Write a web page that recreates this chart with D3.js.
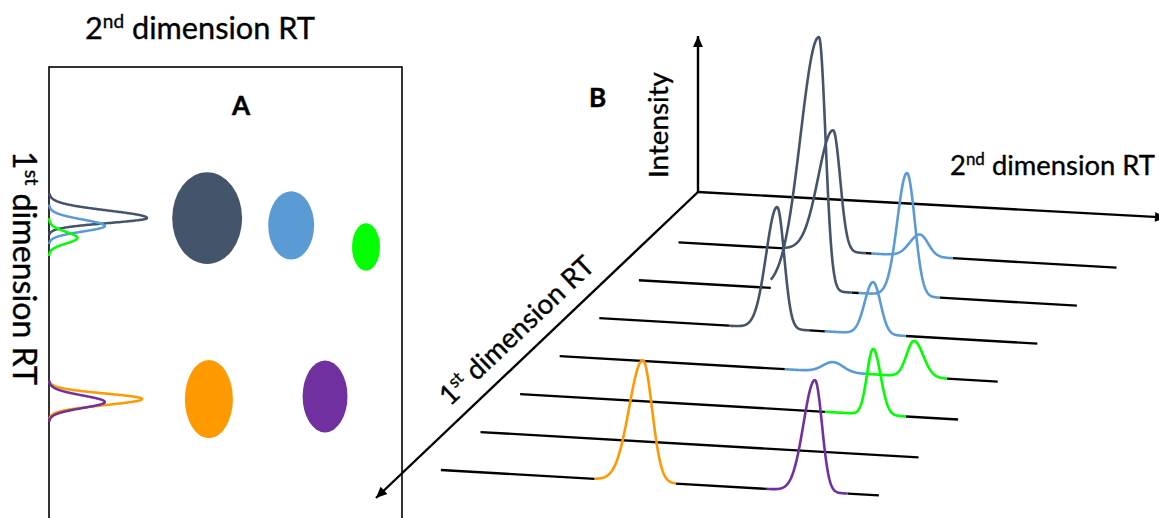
<!DOCTYPE html>
<html>
<head>
<meta charset="utf-8">
<script src="https://cdn.jsdelivr.net/npm/d3@7"></script>
<style>
  html, body { margin: 0; padding: 0; background: #ffffff; }
  svg { display: block; }
  text { white-space: pre; }
</style>
</head>
<body>
<svg id="chart" width="1159" height="518"></svg>
<script>
// ---------------- data ----------------
// five compounds separated in two dimensions
const compounds = ["c1", "c2", "c3", "c4", "c5"];

// panel A: 2D retention map (1st dim in min, 2nd dim in s)
const spotRt1 = [16.8, 17.6, 20.0, 36.9, 36.6];
const spotRt2 = [4.48, 6.86, 8.98, 4.53, 7.82];
const spotWidth1 = [10.2, 7.6, 5.3, 8.7, 8.0];   // peak width along 1st dim (min)
const spotWidth2 = [1.98, 1.30, 0.79, 1.36, 1.27]; // peak width along 2nd dim (s)

// panel A: 1st-dimension chromatogram of each compound
const traceRt1 = [16.78, 17.67, 19.0, 36.89, 37.22];
const traceHeight = [100, 57, 29, 95, 57];
const traceSigmaEarly = [0.83, 0.72, 0.67, 0.61, 0.72];
const traceSigmaLate = [0.56, 0.61, 0.61, 0.67, 0.67];

// panel B: modulated 2nd-dimension chromatograms (one per modulation)
const modulations = [0, 1, 2, 3, 4, 5, 6];
const peakSlice    = [0, 1, 2, 0, 1, 2, 3, 3, 4, 6, 6];
const peakCompound = [0, 0, 0, 1, 1, 1, 1, 2, 2, 3, 4];
const peakRt2      = [3.53, 4.11, 4.06, 5.51, 6.12, 6.25, 6.24, 8.09, 8.06, 4.61, 8.54];
const peakHeight   = [47.7, 100, 47.9, 8.6, 48.4, 20.5, 3.9, 14.1, 25.9, 47.9, 44.0];
const peakSigmaL   = [0.34, 0.42, 0.25, 0.23, 0.22, 0.19, 0.23, 0.17, 0.14, 0.31, 0.26];
const peakSigmaR   = [0.16, 0.15, 0.16, 0.19, 0.18, 0.17, 0.23, 0.21, 0.17, 0.21, 0.16];

// ---------------- styles ----------------
const colors = ["#44546A", "#5B9BD5", "#00FF00", "#FF9900", "#7030A0"];
const FONT = "Lato, 'Open Sans', 'Noto Sans', sans-serif";

const svg = d3.select("#chart");

// skewed Gaussian peak profile
function peakShape(x, c, sL, sR) {
  const s = x < c ? sL : sR;
  const d = (x - c) / s;
  return Math.exp(-0.5 * d * d);
}

// text label, font size chosen so the label spans the given width
function label(parent, parts, o) {
  const g = parent.append("g")
    .attr("transform", `translate(${o.x},${o.y}) rotate(${o.rotate || 0})`);
  const text = g.append("text")
    .attr("text-anchor", o.anchor || "start")
    .attr("font-family", FONT)
    .attr("font-weight", o.weight || "normal")
    .attr("fill", "#000")
    .attr("stroke", "#000")
    .attr("stroke-width", o.weight === "bold" ? 0.5 : 0.35);
  const build = fs => {
    text.selectAll("tspan").remove();
    text.attr("font-size", fs);
    parts.forEach(p => {
      const ts = text.append("tspan").text(p.t);
      if (p.sup) ts.attr("font-size", fs * 0.62).style("baseline-shift", (fs * 0.36) + "px");
    });
  };
  build(30);
  if (o.width) {
    const len = text.node().getComputedTextLength();
    build(30 * o.width / len);
  } else if (o.size) {
    build(o.size);
  }
  return text;
}

// ---------------- panel A ----------------
const A = svg.append("g");
const boxLeft = 49, boxTop = 67, boxRight = 402, boxBottom = 540;

const xA = d3.scaleLinear().domain([0, 10]).range([boxLeft, boxRight]);
const yA = d3.scaleLinear().domain([0, 50]).range([boxTop, 517]);
const intA = d3.scaleLinear().domain([0, 100]).range([0, 98]);

A.append("rect")
  .attr("x", boxLeft).attr("y", boxTop)
  .attr("width", boxRight - boxLeft).attr("height", boxBottom - boxTop)
  .attr("fill", "none").attr("stroke", "#000").attr("stroke-width", 1.6);

A.selectAll("ellipse.spot")
  .data(compounds)
  .join("ellipse")
  .attr("class", "spot")
  .attr("cx", (d, i) => xA(spotRt2[i]))
  .attr("cy", (d, i) => yA(spotRt1[i]))
  .attr("rx", (d, i) => xA(spotRt2[i] + spotWidth2[i] / 2) - xA(spotRt2[i]))
  .attr("ry", (d, i) => yA(spotRt1[i] + spotWidth1[i] / 2) - yA(spotRt1[i]))
  .attr("fill", (d, i) => colors[i]);

const traceLine = d3.line().x(d => d[0]).y(d => d[1]).curve(d3.curveBasis);
compounds.forEach((c, i) => {
  const c0 = traceRt1[i], sE = traceSigmaEarly[i], sL = traceSigmaLate[i];
  const pts = d3.range(c0 - 3.3 * sE, c0 + 3.3 * sL + 1e-9, 0.02).map(t => [
    boxLeft + intA(traceHeight[i] * peakShape(t, c0, sE, sL)), yA(t)
  ]);
  A.append("path")
    .attr("d", traceLine(pts))
    .attr("fill", "none").attr("stroke", colors[i])
    .attr("stroke-width", 2.5).attr("stroke-linejoin", "round");
});

label(A, [{ t: "2" }, { t: "nd", sup: true }, { t: " dimension RT" }], { x: 85, y: 39, width: 230 });
label(A, [{ t: "1" }, { t: "st", sup: true }, { t: " dimension RT" }], { x: 13, y: 151, rotate: 90, width: 234 });
label(A, [{ t: "A" }], { x: 241, y: 115, anchor: "middle", weight: "bold", size: 26 });

// ---------------- panel B ----------------
const B = svg.append("g");
const origin = [698, 192];
const slope2 = 0.058;                 // drop of the 2nd-dimension direction per px

const sliceX = d3.scaleLinear().domain([0, 6]).range([678.5, 440.9]);
const sliceY = d3.scaleLinear().domain([0, 6]).range([242.3, 470.0]);
const rt2B = d3.scaleLinear().domain([0, 10]).range([0, 438]);
const intB = d3.scaleLinear().domain([0, 100]).range([0, 253.6]);

const proj = (slice, t, h) => {
  const dx = rt2B(t);
  return [sliceX(slice) + dx, sliceY(slice) + dx * slope2 - intB(h)];
};

// axes
const axisG = B.append("g").attr("stroke", "#000").attr("stroke-width", 2.4).attr("fill", "none");
function arrow(from, to, head) {
  axisG.append("line")
    .attr("x1", from[0]).attr("y1", from[1]).attr("x2", to[0]).attr("y2", to[1]);
  const ang = Math.atan2(to[1] - from[1], to[0] - from[0]);
  const L = head, W = head * 0.45;
  const bx = to[0] - L * Math.cos(ang), by = to[1] - L * Math.sin(ang);
  const px = -Math.sin(ang) * W, py = Math.cos(ang) * W;
  B.append("path")
    .attr("d", `M${to[0]},${to[1]}L${bx + px},${by + py}L${bx - px},${by - py}Z`)
    .attr("fill", "#000");
}
arrow(origin, [698, 36], 11);
arrow(origin, [1166, 217.5], 11);
arrow(origin, [376, 498], 11);

// baselines and peaks, back to front
const windowL = 1.1, windowR = 0.75;
const peakLine = d3.line().x(d => d[0]).y(d => d[1]);
modulations.forEach(s => {
  const idx = peakSlice.map((v, k) => v === s ? k : -1).filter(k => k >= 0)
    .sort((a, b) => peakRt2[a] - peakRt2[b]);
  // black baseline pieces between peak windows
  let cur = 0;
  const segs = [];
  idx.forEach(k => {
    const a = peakRt2[k] - windowL;
    if (a > cur) segs.push([cur, a]);
    cur = Math.max(cur, peakRt2[k] + windowR);
  });
  if (cur < 10) segs.push([cur, 10]);
  segs.forEach(([a, b]) => {
    const p = proj(s, a, 0), q = proj(s, b, 0);
    B.append("line")
      .attr("x1", p[0]).attr("y1", p[1]).attr("x2", q[0]).attr("y2", q[1])
      .attr("stroke", "#000").attr("stroke-width", 2.3);
  });
  // coloured peak profiles
  idx.forEach(k => {
    const c = peakRt2[k];
    const pts = d3.range(c - windowL, c + windowR + 1e-9, 0.01).map(t =>
      proj(s, t, peakHeight[k] * peakShape(t, c, peakSigmaL[k], peakSigmaR[k])));
    B.append("path")
      .attr("d", peakLine(pts))
      .attr("fill", "none").attr("stroke", colors[peakCompound[k]])
      .attr("stroke-width", 2.6).attr("stroke-linejoin", "round");
  });
});

// axis titles
label(B, [{ t: "Intensity" }], { x: 668, y: 178, rotate: -90, width: 106 });
label(B, [{ t: "2" }, { t: "nd", sup: true }, { t: " dimension RT" }], { x: 950, y: 175, width: 205 });
{
  // title set along the 1st-dimension axis, on its upper-left side
  const ang = Math.atan2(498 - origin[1], 376 - origin[0]);
  const ux = Math.cos(ang), uy = Math.sin(ang);
  const along = 227, off = 15;
  const cx = origin[0] + along * ux - off * uy;
  const cy = origin[1] + along * uy + off * ux;
  const deg = (ang * 180 / Math.PI) + 180;
  label(B, [{ t: "1" }, { t: "st", sup: true }, { t: " dimension RT" }],
    { x: cx, y: cy, rotate: deg, anchor: "middle", width: 202 });
}
label(B, [{ t: "B" }], { x: 597.5, y: 107, anchor: "middle", weight: "bold", size: 26 });
</script>
</body>
</html>
